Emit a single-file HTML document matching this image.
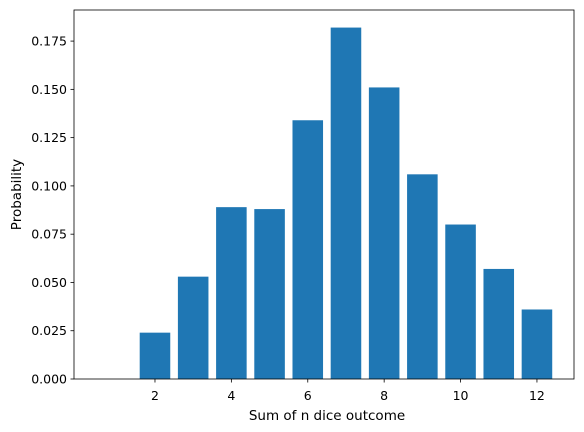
<!DOCTYPE html>
<html><head><meta charset="utf-8"><style>
body{margin:0;background:#fff;}
svg{display:block;font-family:"DejaVu Sans","Liberation Sans",sans-serif;}
</style></head><body>
<svg id="chart" width="584" height="432"></svg>
<script>
const categories=[2,3,4,5,6,7,8,9,10,11,12];
const probabilities=[0.024,0.053,0.089,0.088,0.134,0.182,0.151,0.106,0.080,0.057,0.036];
const xTicks=[2,4,6,8,10,12];
const yTicks=[0,0.025,0.05,0.075,0.1,0.125,0.15,0.175];
const yTickLabels=["0.000","0.025","0.050","0.075","0.100","0.125","0.150","0.175"];

const L=74,R=574,T=10,B=379;
const xMin=-0.12,xMax=12.97,yMin=0,yMax=0.1911;
const sx=v=>L+(v-xMin)/(xMax-xMin)*(R-L);
const sy=v=>B-(v-yMin)/(yMax-yMin)*(B-T);
const NS="http://www.w3.org/2000/svg";
const svg=document.getElementById('chart');
function mk(t,a,p){const e=document.createElementNS(NS,t);for(const k in a)e.setAttribute(k,a[k]);(p||svg).appendChild(e);return e;}

const bars=mk('g',{});


categories.forEach((c,i)=>{
  const w=sx(0.8)-sx(0);
  const r=mk('rect',{x:sx(c-0.4),y:sy(probabilities[i]),width:w,height:sy(0)-sy(probabilities[i]),fill:'#1f77b4'},bars);
  
  
});
const frame=mk('rect',{x:L,y:T,width:R-L,height:B-T,fill:'none',stroke:'#000','stroke-width':0.8});



xTicks.forEach(v=>{
  mk('line',{x1:sx(v),x2:sx(v),y1:B,y2:B+3.5,stroke:'#000','stroke-width':0.8});
  const t=mk('text',{x:sx(v),y:B+21,'font-size':12.5,'text-anchor':'middle',fill:'#000'});
  t.textContent=v;
  
  
});
yTicks.forEach((v,i)=>{
  mk('line',{x1:L-3.5,x2:L,y1:sy(v),y2:sy(v),stroke:'#000','stroke-width':0.8});
  const t=mk('text',{x:L-7,y:sy(v)+4.5,'font-size':12.5,'text-anchor':'end',fill:'#000'});
  t.textContent=yTickLabels[i];
  
  
});
const xt=mk('text',{x:(L+R)/2+3,y:420,'font-size':13.5,'text-anchor':'middle'});
xt.textContent='Sum of n dice outcome';


const yt=mk('text',{x:21,y:(T+B)/2,'font-size':13.5,'text-anchor':'middle',transform:'rotate(-90 21 '+((T+B)/2)+')'});
yt.textContent='Probability';


</script>
</body></html>
